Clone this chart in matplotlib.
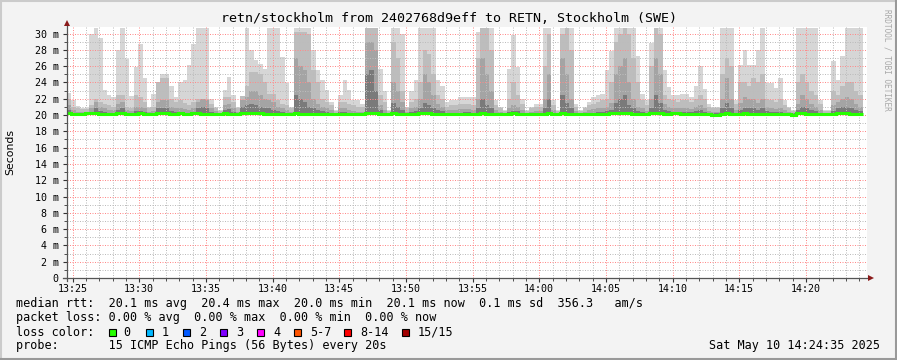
import matplotlib
matplotlib.use("Agg")
import matplotlib.pyplot as plt
from matplotlib.lines import Line2D
from matplotlib.patches import Rectangle
import numpy as np

# smokeping data, 20 s steps starting 13:24:35 (values in ms)
top = [22.7, 21.8, 21.1, 20.9, 20.9, 29.9, 30.7, 29.4, 23.1, 22.4,
       22.2, 28.0, 30.7, 26.9, 22.3, 25.9, 28.7, 24.5, 21.0, 22.6,
       24.1, 25.0, 25.0, 23.5, 22.2, 24.1, 24.3, 26.1, 28.7, 30.7,
       30.7, 30.7, 22.0, 21.0, 20.6, 23.1, 24.7, 22.4, 21.0, 21.0,
       30.7, 28.0, 26.7, 26.3, 25.7, 30.7, 30.7, 30.7, 27.1, 23.9,
       21.0, 30.7, 30.7, 30.7, 30.7, 28.0, 25.5, 24.3, 23.1, 21.6,
       20.6, 22.4, 24.3, 23.1, 21.8, 21.8, 21.4, 30.7, 30.7, 30.7,
       25.7, 22.9, 20.6, 30.7, 30.7, 30.0, 21.0, 22.9, 24.3, 30.7,
       30.7, 30.7, 30.7, 24.3, 23.5, 21.6, 21.8, 21.8, 22.2, 22.2,
       22.2, 22.2, 30.2, 30.7, 30.7, 30.7, 21.8, 21.0, 20.6, 25.7,
       29.8, 25.9, 22.0, 20.6, 21.0, 21.4, 21.4, 30.7, 30.7, 21.8,
       20.6, 30.7, 30.7, 30.7, 21.4, 20.6, 21.0, 21.6, 22.2, 22.4,
       22.6, 25.5, 27.8, 30.7, 30.7, 30.7, 30.7, 30.7, 27.3, 22.6,
       21.8, 28.8, 30.7, 30.7, 25.5, 23.4, 22.4, 22.4, 22.6, 22.6,
       22.2, 23.5, 26.0, 23.2, 21.4, 21.0, 21.0, 30.7, 30.7, 30.7,
       21.8, 26.1, 28.0, 26.1, 26.1, 28.0, 30.7, 23.9, 23.9, 23.3,
       24.5, 21.8, 21.0, 20.6, 30.7, 30.7, 30.7, 30.7, 30.7, 21.8,
       20.6, 20.6, 26.6, 24.3, 27.3, 30.7, 30.7, 30.7, 30.7]

upper = [22.0, 21.0, 20.8, 20.7, 20.7, 21.2, 22.0, 21.6, 21.4, 21.2,
         21.0, 22.5, 22.5, 21.0, 20.9, 22.4, 22.2, 21.6, 20.8, 21.0,
         24.0, 24.5, 24.5, 22.0, 21.6, 21.8, 21.5, 21.2, 21.6, 22.0,
         22.0, 22.0, 21.4, 20.8, 20.5, 22.2, 22.2, 21.6, 20.8, 22.3,
         23.5, 25.3, 25.3, 25.0, 24.0, 22.6, 22.6, 21.8, 21.4, 21.2,
         20.8, 30.2, 30.2, 30.2, 30.0, 25.5, 24.1, 22.0, 21.6, 21.2,
         20.5, 21.6, 21.6, 21.4, 21.2, 21.0, 21.0, 30.7, 30.7, 30.7,
         22.5, 21.6, 20.5, 29.0, 27.0, 23.0, 20.8, 21.6, 22.0, 24.0,
         28.0, 27.5, 25.0, 22.5, 22.0, 21.0, 21.2, 21.2, 21.4, 21.4,
         21.4, 21.2, 27.0, 30.7, 30.7, 28.0, 21.2, 20.8, 20.5, 22.0,
         24.0, 22.5, 21.4, 20.5, 20.8, 21.0, 21.0, 26.0, 30.0, 21.2,
         20.5, 30.0, 30.7, 28.0, 21.0, 20.5, 20.8, 21.2, 21.4, 21.6,
         21.8, 22.0, 24.0, 29.0, 30.0, 30.7, 30.0, 27.0, 24.0, 21.8,
         21.2, 26.0, 30.7, 30.0, 22.5, 22.0, 21.8, 21.6, 21.8, 21.8,
         21.6, 22.0, 22.5, 22.0, 21.0, 20.8, 20.8, 25.0, 27.0, 26.0,
         21.4, 24.0, 24.0, 23.5, 24.5, 24.0, 25.0, 22.0, 21.8, 21.6,
         22.0, 21.2, 20.8, 20.5, 24.0, 25.0, 24.0, 23.0, 22.5, 21.4,
         20.5, 20.5, 23.0, 22.5, 23.5, 24.0, 24.0, 23.0, 22.5]

mid = [21.2, 20.6, 20.4, 20.4, 20.4, 20.8, 21.6, 21.0, 20.8, 20.6,
       20.6, 21.4, 21.6, 20.6, 20.5, 21.0, 21.0, 20.8, 20.4, 20.5,
       21.6, 21.8, 21.8, 21.0, 20.8, 20.8, 20.7, 20.6, 20.8, 21.6,
       22.0, 21.8, 20.8, 20.5, 20.3, 21.2, 21.4, 20.8, 20.4, 21.8,
       22.2, 23.0, 23.0, 22.4, 22.0, 21.8, 21.6, 21.0, 20.8, 20.6,
       20.4, 27.0, 26.0, 25.5, 24.0, 22.0, 21.4, 21.0, 20.8, 20.6,
       20.3, 20.8, 20.8, 20.6, 20.5, 20.4, 20.4, 29.0, 29.0, 28.0,
       21.2, 20.6, 20.3, 24.0, 23.0, 21.6, 20.4, 20.8, 21.0, 22.0,
       25.0, 24.0, 22.5, 21.4, 21.0, 20.6, 20.6, 20.6, 20.7, 20.7,
       20.7, 20.6, 22.0, 27.0, 25.0, 23.0, 20.6, 20.4, 20.3, 20.8,
       21.2, 21.0, 20.6, 20.3, 20.4, 20.5, 20.5, 22.0, 25.0, 20.6,
       20.3, 27.0, 25.0, 22.0, 20.5, 20.3, 20.4, 20.6, 20.7, 20.8,
       20.8, 21.0, 21.5, 25.0, 26.0, 27.0, 24.0, 22.0, 21.0, 20.8,
       20.5, 22.0, 27.0, 25.0, 21.4, 21.0, 20.8, 20.8, 20.8, 20.8,
       20.7, 21.0, 21.2, 20.8, 20.5, 20.4, 20.4, 22.0, 24.5, 22.0,
       20.6, 21.5, 22.2, 22.0, 22.0, 21.5, 22.0, 21.0, 20.8, 20.7,
       20.8, 20.6, 20.4, 20.3, 21.4, 22.5, 22.0, 21.4, 21.0, 20.6,
       20.3, 20.3, 21.2, 21.6, 22.0, 22.2, 22.0, 21.4, 21.0]

low = [20.6, 20.3, 20.2, 20.2, 20.2, 20.4, 20.8, 20.5, 20.4, 20.3,
       20.3, 20.6, 20.8, 20.3, 20.2, 20.5, 20.5, 20.4, 20.2, 20.3,
       20.8, 20.9, 20.9, 20.5, 20.4, 20.4, 20.3, 20.3, 20.4, 20.8,
       21.0, 20.9, 20.4, 20.2, 20.2, 20.6, 20.7, 20.4, 20.2, 21.0,
       21.2, 21.4, 21.2, 21.0, 20.8, 20.8, 20.6, 20.5, 20.4, 20.3,
       20.2, 22.5, 22.0, 21.6, 21.0, 20.8, 20.6, 20.5, 20.4, 20.3,
       20.2, 20.4, 20.4, 20.3, 20.3, 20.2, 20.2, 25.0, 25.5, 23.0,
       20.6, 20.3, 20.2, 21.5, 21.0, 20.6, 20.2, 20.4, 20.5, 20.9,
       21.5, 21.2, 20.8, 20.6, 20.5, 20.3, 20.3, 20.3, 20.3, 20.4,
       20.4, 20.3, 20.8, 22.0, 21.2, 20.8, 20.3, 20.2, 20.2, 20.4,
       20.5, 20.5, 20.3, 20.2, 20.2, 20.3, 20.3, 20.8, 22.0, 20.3,
       20.2, 22.5, 21.5, 20.8, 20.3, 20.2, 20.2, 20.3, 20.3, 20.4,
       20.4, 20.5, 20.6, 21.5, 22.0, 22.5, 21.2, 20.8, 20.5, 20.4,
       20.3, 20.8, 22.5, 21.5, 20.6, 20.5, 20.4, 20.4, 20.4, 20.4,
       20.4, 20.5, 20.6, 20.4, 20.3, 20.2, 20.2, 20.8, 21.5, 20.8,
       20.3, 20.6, 20.9, 20.8, 20.8, 20.6, 20.8, 20.5, 20.4, 20.4,
       20.4, 20.3, 20.2, 20.2, 20.6, 21.0, 20.8, 20.6, 20.5, 20.3,
       20.2, 20.2, 20.5, 20.8, 21.0, 21.0, 20.8, 20.6, 20.5]

median = [20.2, 20.1, 20.1, 20.1, 20.2, 20.2, 20.2, 20.1, 20.1, 20.1,
          20.1, 20.2, 20.2, 20.1, 20.1, 20.1, 20.2, 20.1, 20.1, 20.1,
          20.2, 20.2, 20.2, 20.1, 20.1, 20.2, 20.1, 20.1, 20.2, 20.2,
          20.1, 20.1, 20.1, 20.1, 20.1, 20.2, 20.1, 20.1, 20.1, 20.2,
          20.2, 20.3, 20.2, 20.2, 20.1, 20.1, 20.1, 20.1, 20.1, 20.1,
          20.1, 20.2, 20.1, 20.1, 20.1, 20.1, 20.1, 20.1, 20.1, 20.1,
          20.1, 20.1, 20.1, 20.1, 20.1, 20.1, 20.1, 20.2, 20.2, 20.2,
          20.1, 20.1, 20.1, 20.2, 20.1, 20.1, 20.1, 20.1, 20.1, 20.2,
          20.2, 20.2, 20.1, 20.1, 20.1, 20.1, 20.1, 20.1, 20.1, 20.1,
          20.1, 20.1, 20.1, 20.2, 20.1, 20.1, 20.1, 20.1, 20.1, 20.1,
          20.2, 20.1, 20.1, 20.1, 20.1, 20.1, 20.1, 20.1, 20.2, 20.1,
          20.1, 20.2, 20.1, 20.1, 20.1, 20.1, 20.1, 20.1, 20.1, 20.1,
          20.1, 20.1, 20.2, 20.2, 20.3, 20.2, 20.2, 20.1, 20.1, 20.1,
          20.1, 20.2, 20.3, 20.2, 20.1, 20.1, 20.2, 20.2, 20.1, 20.1,
          20.1, 20.1, 20.1, 20.1, 20.1, 20.0, 20.0, 20.1, 20.2, 20.1,
          20.1, 20.1, 20.2, 20.1, 20.1, 20.1, 20.1, 20.1, 20.1, 20.1,
          20.1, 20.1, 20.1, 20.0, 20.3, 20.2, 20.1, 20.1, 20.1, 20.1,
          20.1, 20.1, 20.1, 20.2, 20.2, 20.2, 20.1, 20.1, 20.1]

step = 20
tick_labels = ['13:25', '13:30', '13:35', '13:40', '13:45', '13:50',
               '13:55', '14:00', '14:05', '14:10', '14:15', '14:20']
ytick_vals = [0, 2, 4, 6, 8, 10, 12, 14, 16, 18, 20, 22, 24, 26, 28, 30]

loss_names = ['0', '1', '2', '3', '4', '5-7', '8-14', '15/15']
loss_cols = ['#26ff00', '#00b8ff', '#0059ff', '#7e00ff', '#ff00ff',
             '#ff5500', '#ff0000', '#a10000']

W, H = 897, 360
def fx(px):
    return px / W
def fy(py):
    return 1 - py / H

mono = 'DejaVu Sans Mono'
fig = plt.figure(figsize=(W / 100, H / 100), dpi=100, facecolor='#f3f3f3')
ax = fig.add_axes([fx(67), fy(278), 800 / W, 251 / H], facecolor='white')

edges = np.arange(len(top) + 1) * step
ax.stairs(top, edges, baseline=20.0, fill=True, color='#d6d6d6', lw=0, zorder=1)
ax.stairs(upper, edges, baseline=20.0, fill=True, color='#bdbdbd', lw=0, zorder=1.1)
ax.stairs(mid, edges, baseline=20.0, fill=True, color='#a4a4a4', lw=0, zorder=1.2)
ax.stairs(low, edges, baseline=20.0, fill=True, color='#7a7a7a', lw=0, zorder=1.3)
ax.stairs(median, edges, baseline=None, color='#26ff00', lw=2.2, zorder=3)

ax.set_xlim(0, 3600)
ax.set_ylim(0, 30.8)
for s in ax.spines.values():
    s.set_visible(False)

xmaj = [25 + 300 * i for i in range(len(tick_labels))]
xmin = [25 + 60 * i for i in range(60)]
ax.set_xticks(xmaj)
ax.set_xticklabels(tick_labels)
ax.set_xticks(xmin, minor=True)
ax.set_yticks(ytick_vals)
ax.set_yticklabels(['0'] + ['%d m' % v for v in ytick_vals[1:]])
ax.set_yticks(np.arange(1, 31, 2), minor=True)

ax.set_axisbelow(False)
ax.grid(True, which='major', color='#ff8a8a', lw=0.72, ls=(0, (1, 1.5)))
ax.grid(True, which='minor', color='#bcbcbc', lw=0.72, ls=(0, (1, 1.5)))
ax.tick_params(which='both', labelsize=7.2, colors='#333333', labelcolor='black')
ax.tick_params(axis='y', which='major', length=3, pad=3)
ax.tick_params(axis='y', which='minor', length=2)
ax.tick_params(axis='x', which='major', length=3, pad=1.5)
ax.tick_params(axis='x', which='minor', length=2)
for lab in ax.get_xticklabels() + ax.get_yticklabels():
    lab.set_family(mono)

# axis lines with arrows
fig.add_artist(Line2D([fx(67), fx(67)], [fy(281), fy(25)], color='#555555', lw=0.9))
fig.add_artist(Line2D([fx(63), fx(869)], [fy(278), fy(278)], color='#555555', lw=0.9))
fig.add_artist(Line2D([fx(67)], [fy(23)], marker='^', ms=5, color='#8b1a1a', mew=0))
fig.add_artist(Line2D([fx(871)], [fy(278)], marker='>', ms=5, color='#8b1a1a', mew=0))

fig.text(0.5, fy(18), 'retn/stockholm from 2402768d9eff to RETN, Stockholm (SWE)',
         ha='center', va='center', family=mono, fontsize=9.6)
fig.text(fx(10), fy(152), 'Seconds', rotation=90, ha='center', va='center',
         fontsize=7.8, family='DejaVu Sans')
fig.text(fx(887), fy(60), 'RRDTOOL / TOBI OETIKER', rotation=270, ha='center',
         va='center', fontsize=5.6, family=mono, color='#a8a8a8')

fs = 8.5
fig.text(fx(16), fy(304), 'median rtt:  20.1 ms avg  20.4 ms max  20.0 ms min  20.1 ms now  0.1 ms sd  356.3   am/s',
         ha='left', va='center', family=mono, fontsize=fs)
fig.text(fx(16), fy(318), 'packet loss: 0.00 % avg  0.00 % max  0.00 % min  0.00 % now',
         ha='left', va='center', family=mono, fontsize=fs)
fig.text(fx(16), fy(332), 'loss color:', ha='left', va='center', family=mono, fontsize=fs)
sq_x = [108.5, 146, 183, 219.5, 257, 294, 344, 402]
lab_x = [123.5, 161.5, 199, 236, 273.5, 310, 360, 417.5]
for name, col, sx, lx in zip(loss_names, loss_cols, sq_x, lab_x):
    fig.add_artist(Rectangle((fx(sx), fy(336)), 7 / W, 7 / H, transform=fig.transFigure,
                             facecolor=col, edgecolor='black', lw=0.8))
    fig.text(fx(lx), fy(332), name, ha='left', va='center', family=mono, fontsize=fs)
fig.text(fx(16), fy(346), 'probe:       15 ICMP Echo Pings (56 Bytes) every 20s',
         ha='left', va='center', family=mono, fontsize=fs)
fig.text(fx(880), fy(346), 'Sat May 10 14:24:35 2025', ha='right', va='center',
         family=mono, fontsize=fs)

# frame
fig.add_artist(Line2D([0, 1], [fy(1), fy(1)], color='#cbcbcb', lw=1.5))
fig.add_artist(Line2D([fx(1), fx(1)], [0, 1], color='#cbcbcb', lw=1.5))
fig.add_artist(Line2D([0, 1], [fy(359), fy(359)], color='#999999', lw=1.5))
fig.add_artist(Line2D([fx(896), fx(896)], [0, 1], color='#999999', lw=1.5))

fig.savefig('out.png', dpi=100, facecolor=fig.get_facecolor())
